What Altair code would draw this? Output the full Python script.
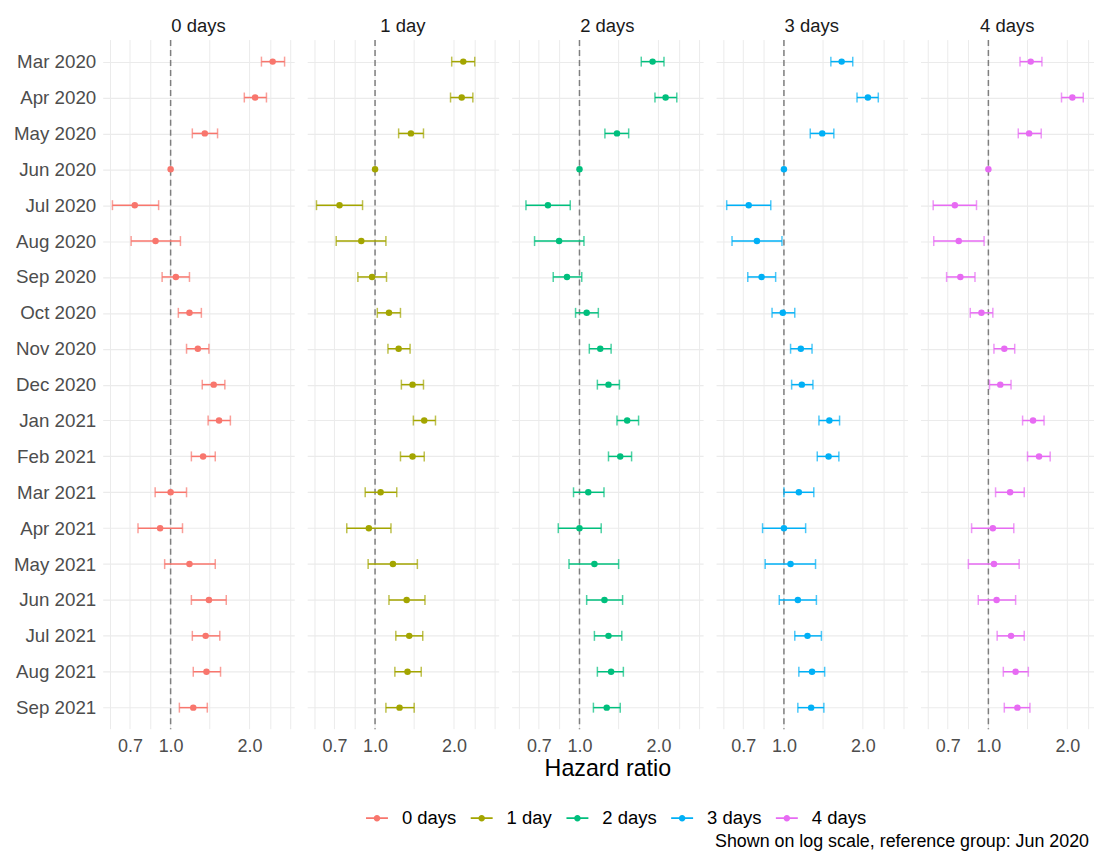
import altair as alt
import pandas as pd

months = ["Mar 2020", "Apr 2020", "May 2020", "Jun 2020", "Jul 2020", "Aug 2020",
          "Sep 2020", "Oct 2020", "Nov 2020", "Dec 2020", "Jan 2021", "Feb 2021",
          "Mar 2021", "Apr 2021", "May 2021", "Jun 2021", "Jul 2021", "Aug 2021",
          "Sep 2021"]
groups = ["0 days", "1 day", "2 days", "3 days", "4 days"]
colors = ["#F8766D", "#A3A500", "#00BF7D", "#00B0F6", "#E76BF3"]

g0_hr = [2.45, 2.10, 1.35, 1.00, 0.73, 0.876, 1.047, 1.18, 1.27, 1.46, 1.53, 1.33, 1.00, 0.912, 1.18, 1.40, 1.36, 1.37, 1.22]
g0_lo = [2.22, 1.91, 1.21, None, 0.60, 0.707, 0.928, 1.07, 1.15, 1.32, 1.39, 1.20, 0.873, 0.751, 0.949, 1.20, 1.21, 1.22, 1.08]
g0_hi = [2.72, 2.32, 1.51, None, 0.90, 1.09, 1.18, 1.31, 1.40, 1.61, 1.69, 1.48, 1.15, 1.11, 1.48, 1.63, 1.54, 1.55, 1.38]

g1_hr = [2.17, 2.14, 1.37, 1.00, 0.732, 0.886, 0.974, 1.13, 1.23, 1.39, 1.54, 1.39, 1.05, 0.947, 1.17, 1.32, 1.35, 1.33, 1.24]
g1_lo = [1.96, 1.94, 1.23, None, 0.598, 0.711, 0.86, 1.02, 1.12, 1.26, 1.40, 1.25, 0.917, 0.78, 0.941, 1.13, 1.20, 1.19, 1.10]
g1_hi = [2.40, 2.36, 1.53, None, 0.896, 1.10, 1.106, 1.25, 1.36, 1.53, 1.70, 1.54, 1.21, 1.15, 1.45, 1.55, 1.52, 1.50, 1.41]

g2_hr = [1.90, 2.13, 1.39, 1.00, 0.758, 0.836, 0.896, 1.065, 1.20, 1.29, 1.52, 1.43, 1.08, 1.00, 1.14, 1.245, 1.29, 1.32, 1.27]
g2_lo = [1.72, 1.94, 1.25, None, 0.625, 0.674, 0.794, 0.966, 1.09, 1.17, 1.39, 1.29, 0.949, 0.83, 0.912, 1.065, 1.14, 1.17, 1.13]
g2_hi = [2.10, 2.35, 1.54, None, 0.922, 1.04, 1.02, 1.18, 1.32, 1.42, 1.68, 1.58, 1.24, 1.21, 1.41, 1.46, 1.45, 1.47, 1.43]

g3_hr = [1.66, 2.09, 1.40, 1.00, 0.734, 0.789, 0.822, 0.99, 1.16, 1.17, 1.49, 1.48, 1.14, 1.00, 1.06, 1.13, 1.23, 1.28, 1.27]
g3_lo = [1.51, 1.90, 1.26, None, 0.605, 0.634, 0.728, 0.901, 1.06, 1.07, 1.36, 1.34, 1.00, 0.829, 0.848, 0.96, 1.10, 1.14, 1.13]
g3_hi = [1.83, 2.29, 1.55, None, 0.891, 0.983, 0.930, 1.10, 1.28, 1.29, 1.63, 1.62, 1.30, 1.21, 1.32, 1.33, 1.39, 1.43, 1.42]

g4_hr = [1.45, 2.09, 1.43, 1.00, 0.745, 0.771, 0.782, 0.941, 1.15, 1.11, 1.48, 1.56, 1.21, 1.04, 1.05, 1.075, 1.22, 1.27, 1.29]
g4_lo = [1.32, 1.90, 1.30, None, 0.616, 0.619, 0.693, 0.853, 1.05, 1.01, 1.35, 1.41, 1.065, 0.863, 0.839, 0.915, 1.08, 1.14, 1.15]
g4_hi = [1.60, 2.30, 1.59, None, 0.901, 0.963, 0.889, 1.04, 1.26, 1.22, 1.63, 1.72, 1.37, 1.25, 1.31, 1.27, 1.37, 1.42, 1.44]

x_ticks = [0.7, 1.0, 2.0]
x_grid = [0.59, 0.7, 0.84, 1.0, 1.41, 2.0, 2.41, 2.87]
ref_value = [1.0]
x_title = "Hazard ratio"
caption = "Shown on log scale, reference group: Jun 2020"

series = [(g0_hr, g0_lo, g0_hi), (g1_hr, g1_lo, g1_hi), (g2_hr, g2_lo, g2_hi),
          (g3_hr, g3_lo, g3_hi), (g4_hr, g4_lo, g4_hi)]

FONT = "Liberation Sans"
W, H = 192, 691
X_MIN, X_MAX = 0.551, 2.96
# last panel is cut by the page edge in the reference: same scale, narrower
W_LAST = 174
X_MAX_LAST = 2.527

yscale = alt.Scale(type="point", domain=months, padding=0.6)
cscale = alt.Scale(domain=groups, range=colors)

legend_path = ("M-1,-0.075L1,-0.075L1,0.075L-1,0.075Z "
               "M0.3,0A0.3,0.3,0,1,1,-0.3,0A0.3,0.3,0,1,1,0.3,0Z")


def make_panel(i):
    hr, lo, hi = series[i]
    width = W_LAST if i == 4 else W
    xmax = X_MAX_LAST if i == 4 else X_MAX
    xscale = alt.Scale(type="log", domain=[X_MIN, xmax], nice=False)
    df = pd.DataFrame({"month": months, "hr": hr, "lo": lo, "hi": hi,
                       "group": groups[i]})
    xaxis = alt.Axis(values=x_ticks, format=".1f", grid=False, ticks=False,
                     domain=False, labelFontSize=18, labelColor="#4D4D4D",
                     labelPadding=8, title=x_title if i == 2 else "",
                     titleFontSize=23.3, titleFontWeight="normal",
                     titleColor="#000000", titlePadding=2)
    yaxis = alt.Axis(title="", ticks=False, domain=False, grid=True,
                     gridColor="#EBEBEB", gridWidth=1.2,
                     labels=(i == 0), labelFontSize=18.8,
                     labelColor="#4D4D4D", labelPadding=7)
    y = alt.Y("month:N", scale=yscale, axis=yaxis, sort=months)

    gvals = [g for g in x_grid if X_MIN <= g <= xmax]
    vgrid = alt.Chart(pd.DataFrame({"g": gvals})).mark_rule(
        color="#EBEBEB", strokeWidth=1.0
    ).encode(x=alt.X("g:Q", scale=xscale, axis=xaxis))

    vref = alt.Chart(pd.DataFrame({"r": ref_value})).mark_rule(
        color="#7F7F7F", strokeWidth=1.5, strokeDash=[6, 4]
    ).encode(x=alt.X("r:Q", scale=xscale, axis=xaxis))

    base = alt.Chart(df)
    color = alt.Color("group:N", scale=cscale,
                      legend=alt.Legend(orient="none", direction="horizontal",
                                        legendX=264, legendY=769, title="",
                                        labelFontSize=18.5, labelColor="#000000",
                                        symbolType=legend_path, symbolSize=484,
                                        symbolStrokeWidth=0, symbolOpacity=1,
                                        labelOffset=14, columnPadding=14,
                                        padding=0, labelFont=FONT))
    bars = base.mark_rule(strokeWidth=1.5).encode(
        x=alt.X("lo:Q", scale=xscale, axis=xaxis), x2="hi:Q", y=y, color=color)
    cap_lo = base.mark_tick(thickness=1.5, size=10, orient="vertical").encode(
        x=alt.X("lo:Q", scale=xscale, axis=xaxis), y=y, color=color)
    cap_hi = base.mark_tick(thickness=1.5, size=10, orient="vertical").encode(
        x=alt.X("hi:Q", scale=xscale, axis=xaxis), y=y, color=color)
    pts = base.mark_circle(size=42, opacity=1).encode(
        x=alt.X("hr:Q", scale=xscale, axis=xaxis), y=y, color=color)

    layers = [vgrid, vref, bars, cap_lo, cap_hi, pts]
    if i == 4:
        cap = alt.Chart(pd.DataFrame({"t": [caption]})).mark_text(
            align="right", baseline="middle", fontSize=17.9, color="#000000",
            font=FONT
        ).encode(text="t:N", x=alt.value(169), y=alt.value(804))
        layers.append(cap)

    return alt.layer(*layers).properties(
        width=width, height=H,
        title=alt.TitleParams(groups[i], fontSize=18.5, fontWeight="normal",
                              color="#1A1A1A", anchor="middle", offset=4,
                              font=FONT)
    )


chart = alt.hconcat(*[make_panel(i) for i in range(5)], spacing=13,
                    bounds="flush").properties(
    padding={"left": 5, "top": 7, "right": 0, "bottom": 0}
).configure(font=FONT).configure_view(strokeWidth=0).configure_axis(
    labelFont=FONT, titleFont=FONT)

chart.save("out.html", embed_options={"renderer": "svg", "actions": False})
